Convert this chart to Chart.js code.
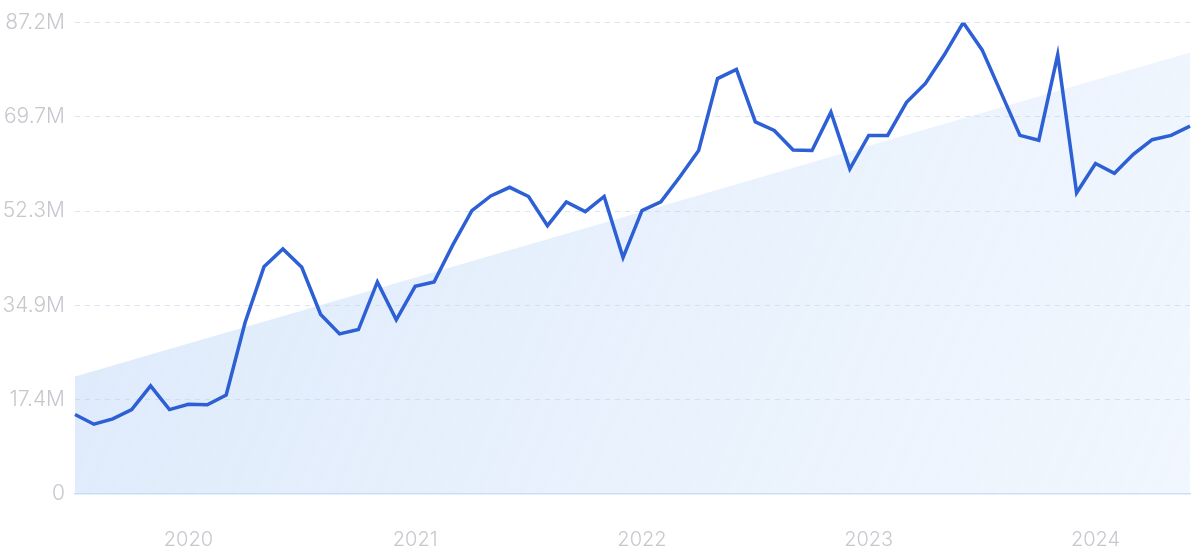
<!DOCTYPE html>
<html>
<head>
<meta charset="utf-8">
<script src="https://cdn.jsdelivr.net/npm/chart.js@4.4.1/dist/chart.umd.min.js"></script>
<style>
  html,body{margin:0;padding:0;background:#fff;}
  #wrap{width:1200px;height:559px;position:relative;}
</style>
</head>
<body>
<div id="wrap"><canvas id="trendChart"></canvas></div>
<script>
/* Monthly series Jul 2019 – Jun 2024, values in millions, with a linear trend band */
const MONTHS = ["Jan","Feb","Mar","Apr","May","Jun","Jul","Aug","Sep","Oct","Nov","Dec"];
const START_YEAR = 2019, START_MONTH = 6; // July

const values = [
  14.7, 12.9, 13.9, 15.6, 20.0, 15.6,
  16.6, 16.5, 18.3, 31.7, 42.0, 45.3, 41.9, 33.2, 29.6, 30.4, 39.2, 32.2,
  38.4, 39.2, 46.1, 52.4, 55.1, 56.7, 55.0, 49.6, 54.0, 52.2, 55.0, 43.7,
  52.4, 54.0, 58.6, 63.5, 76.8, 78.5, 68.8, 67.2, 63.6, 63.5, 70.6, 60.1,
  66.3, 66.3, 72.4, 75.9, 81.2, 87.15, 82.1, 74.2, 66.3, 65.4, 81.2, 55.7,
  61.1, 59.3, 62.8, 65.5, 66.3, 68.0
];
const trendEnds = [21.7, 81.6];   // trend value at first and last month
const yMax = 87.15;
const yTickLabels = ["0","17.4M","34.9M","52.3M","69.7M","87.2M"];

// labels like "2019-Jul"
const labels = values.map((_, i) => {
  const k = START_MONTH + i;
  return (START_YEAR + Math.floor(k / 12)) + "-" + MONTHS[k % 12];
});

const canvas = document.getElementById("trendChart");

function bandFill(c){
  const a = c.chart.chartArea;
  if (!a) return "rgba(190,214,247,0.45)";
  const g = c.chart.ctx.createLinearGradient(a.left, a.top, a.right, a.bottom);
  g.addColorStop(0, "rgba(186,212,247,0.50)");
  g.addColorStop(1, "rgba(200,222,250,0.25)");
  return g;
}

new Chart(canvas, {
  type: "line",
  data: {
    labels,
    datasets: [
      {
        label: "value",
        data: values,
        borderColor: "#2d5fd5",
        borderWidth: 3.5,
        pointRadius: 0,
        tension: 0,
        fill: false,
        order: 1
      },
      {
        label: "trend",
        data: [
          {x: labels[0], y: trendEnds[0]},
          {x: labels[labels.length - 1], y: trendEnds[1]}
        ],
        borderWidth: 0,
        borderColor: "rgba(0,0,0,0)",
        backgroundColor: bandFill,
        pointRadius: 0,
        fill: "origin",
        order: 2
      }
    ]
  },
  options: {
    responsive: true,
    maintainAspectRatio: false,
    animation: false,
    layout: {padding: {top: 20, right: 10, left: 0, bottom: 0}},
    plugins: {legend: {display: false}, tooltip: {enabled: false}},
    scales: {
      x: {
        type: "category",
        offset: false,
        grid: {display: false, drawTicks: false},
        border: {display: true, color: "#cddff6", width: 1.5},
        ticks: {
          autoSkip: false,
          maxRotation: 0,
          padding: 34,
          color: "#c6c8cd",
          font: {family: "Inter", size: 20, weight: 300},
          callback: (v, i) => labels[i].endsWith("Jan") ? labels[i].slice(0, 4) : null
        },
        afterFit: s => { s.height = 65; }
      },
      y: {
        min: 0,
        max: yMax,
        afterBuildTicks: s => { s.ticks = yTickLabels.map((_, i) => ({value: yMax * i / 5})); },
        grid: {
          drawTicks: false,
          color: c => c.index === 0 ? "rgba(0,0,0,0)" : "#d9e3f1",
          lineWidth: 1
        },
        border: {display: false, dash: [5, 5]},
        ticks: {
          padding: 10,
          color: "#c6c8cd",
          font: {family: "Inter", size: 21, weight: 300},
          callback: (v, i) => yTickLabels[i]
        },
        afterFit: s => { s.width = 75; }
      }
    }
  }
});
</script>
</body>
</html>
